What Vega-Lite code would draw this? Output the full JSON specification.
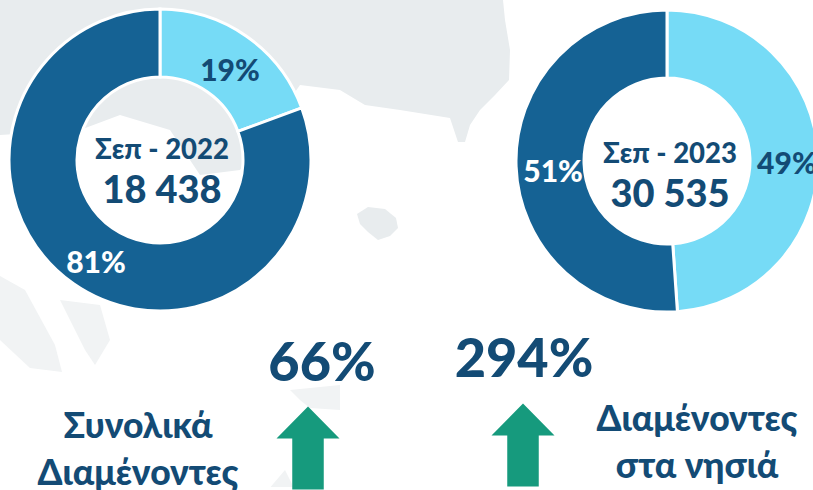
{
"$schema":"https://vega.github.io/schema/vega-lite/v6.json",
"width":813,"height":490,"padding":0,
"autosize":{"type":"fit","contains":"padding"},
"background":"white",
"config":{"view":{"stroke":null},"locale":{"number":{"decimal":",","thousands":" ","grouping":[3],"currency":["","€"]}},"text":{"font":"Lato","fontWeight":900}},
"datasets":{
"donuts":[
{"period":"Σεπ - 2022","segment":"Νησιά","share":0.194,"total":18438},
{"period":"Σεπ - 2022","segment":"Ενδοχώρα","share":0.806,"total":18438},
{"period":"Σεπ - 2023","segment":"Νησιά","share":0.489,"total":30535},
{"period":"Σεπ - 2023","segment":"Ενδοχώρα","share":0.511,"total":30535}
],
"totals":[
{"period":"Σεπ - 2022","total":18438},
{"period":"Σεπ - 2023","total":30535}
],
"changes":[
{"measure":"Συνολικά\nΔιαμένοντες","change":0.66},
{"measure":"Διαμένοντες\nστα νησιά","change":2.94}
],
"land":[
{"type":"Feature","geometry":{"type":"Polygon","coordinates":[[[0,0],[503,0],[505,20],[510,50],[509,80],[495,95],[480,110],[470,125],[465,142],[458,142],[450,118],[400,110],[365,105],[340,90],[300,85],[240,170],[200,175],[170,130],[120,115],[80,130],[0,135],[0,0]]]}},
{"type":"Feature","geometry":{"type":"Polygon","coordinates":[[[357,214],[368,207],[385,209],[396,218],[398,228],[390,236],[378,240],[368,232],[360,224],[357,214]]]}}
],
"faintLand":[
{"type":"Feature","geometry":{"type":"Polygon","coordinates":[[[0,276],[25,290],[55,345],[62,372],[30,368],[0,340],[0,276]]]}},
{"type":"Feature","geometry":{"type":"Polygon","coordinates":[[[60,300],[100,305],[110,340],[95,365],[85,350],[60,300]]]}},
{"type":"Feature","geometry":{"type":"Polygon","coordinates":[[[290,390],[340,385],[340,410],[310,408],[300,400],[290,390]]]}},
{"type":"Feature","geometry":{"type":"Polygon","coordinates":[[[268,490],[285,470],[295,490],[268,490]]]}}
]
},
"layer":[
{"data":{"name":"land"},"mark":{"type":"geoshape","fill":"#E8ECEE","stroke":null},"projection":{"type":"identity","scale":1,"translate":[0,0]},"encoding":{}},
{"data":{"name":"faintLand"},"mark":{"type":"geoshape","fill":"#F1F3F4","stroke":null},"projection":{"type":"identity","scale":1,"translate":[0,0]},"encoding":{}},
{"data":{"name":"donuts"},
"transform":[{"stack":"share","groupby":["period"],"sort":[{"field":"segment","order":"descending"}],"as":["v0","v1"]}],
"mark":{"type":"arc","innerRadius":83,"outerRadius":151,"stroke":"white","strokeWidth":3},
"encoding":{
"x":{"field":"period","type":"nominal","axis":null,"scale":{"type":"point","padding":0,"range":[160,667]}},
"y":{"field":"period","type":"nominal","axis":null,"scale":{"type":"point","padding":0,"range":[160,161]}},
"theta":{"field":"v0","type":"quantitative","stack":null,"scale":{"domain":[0,1]}},
"theta2":{"field":"v1"},
"color":{"field":"segment","type":"nominal","legend":null,"scale":{"domain":["Νησιά","Ενδοχώρα"],"range":["#76DBF6","#156294"]}}
}},
{"data":{"name":"donuts"},
"transform":[{"stack":"share","groupby":["period"],"sort":[{"field":"segment","order":"descending"}],"as":["v0","v1"]},{"calculate":"(datum.v0+datum.v1)/2","as":"mid"}],
"mark":{"type":"text","radius":117,"fontSize":30,"align":"center","baseline":"middle","dx":3,"dy":8},
"encoding":{
"x":{"field":"period","type":"nominal","axis":null,"scale":{"type":"point","padding":0,"range":[160,667]}},
"y":{"field":"period","type":"nominal","axis":null,"scale":{"type":"point","padding":0,"range":[160,161]}},
"theta":{"field":"mid","type":"quantitative","stack":null,"scale":{"domain":[0,1]}},
"text":{"field":"share","type":"quantitative","format":".0%"},
"color":{"field":"segment","type":"nominal","legend":null,"scale":{"domain":["Νησιά","Ενδοχώρα"],"range":["#134B75","#FFFFFF"]}}
}},
{"data":{"name":"totals"},
"mark":{"type":"text","fontSize":27.5,"color":"#134B75","align":"center","baseline":"middle"},
"encoding":{
"x":{"field":"period","type":"nominal","axis":null,"scale":{"type":"point","padding":0,"range":[162,670]}},
"y":{"field":"period","type":"nominal","axis":null,"scale":{"type":"point","padding":0,"range":[151,155]}},
"text":{"field":"period"}
}},
{"data":{"name":"totals"},
"mark":{"type":"text","fontSize":38,"color":"#134B75","align":"center","baseline":"middle"},
"encoding":{
"x":{"field":"period","type":"nominal","axis":null,"scale":{"type":"point","padding":0,"range":[162,670]}},
"y":{"field":"period","type":"nominal","axis":null,"scale":{"type":"point","padding":0,"range":[192,196]}},
"text":{"field":"total","type":"quantitative","format":","}
}},
{"data":{"name":"changes"},
"mark":{"type":"text","fontSize":54,"color":"#134B75","align":"center","baseline":"middle"},
"encoding":{
"x":{"field":"measure","type":"nominal","sort":null,"axis":null,"scale":{"type":"point","padding":0,"range":[322,524]}},
"y":{"field":"measure","type":"nominal","sort":null,"axis":null,"scale":{"type":"point","padding":0,"range":[365,361]}},
"text":{"field":"change","type":"quantitative","format":".0%"}
}},
{"data":{"name":"changes"},
"mark":{"type":"point","filled":true,"opacity":1,"color":"#169A7D","strokeWidth":0,"size":3969,"shape":"M0,-1.32L1,-0.3L0.5,-0.3L0.5,1.32L-0.5,1.32L-0.5,-0.3L-1,-0.3Z"},
"encoding":{
"x":{"field":"measure","type":"nominal","sort":null,"axis":null,"scale":{"type":"point","padding":0,"range":[308,523]}},
"y":{"field":"measure","type":"nominal","sort":null,"axis":null,"scale":{"type":"point","padding":0,"range":[448,445]}}
}},
{"data":{"name":"changes"},
"transform":[{"calculate":"split(datum.measure,'\\n')","as":"lines"}],
"mark":{"type":"text","fontSize":35.5,"color":"#134B75","align":"center","baseline":"alphabetic","lineHeight":47},
"encoding":{
"x":{"field":"measure","type":"nominal","sort":null,"axis":null,"scale":{"type":"point","padding":0,"range":[138,697]}},
"y":{"field":"measure","type":"nominal","sort":null,"axis":null,"scale":{"type":"point","padding":0,"range":[438,431]}},
"text":{"field":"lines"}
}}
],
"resolve":{"scale":{"x":"independent","y":"independent","color":"independent","theta":"independent"}}
}
